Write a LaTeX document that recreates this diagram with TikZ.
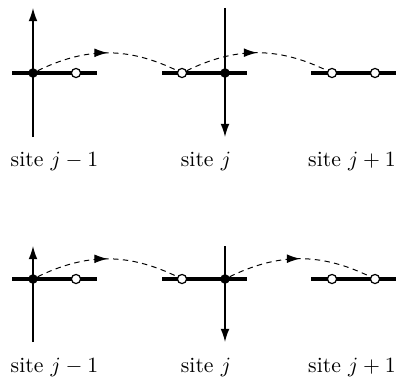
\documentclass[tikz,border=0pt]{standalone}
\usetikzlibrary{arrows.meta, decorations.markings}

\begin{document}
\begin{tikzpicture}[x=0.46pt, y=0.46pt,
      bar/.style={line width=1.5pt},
      axis/.style={line width=0.6pt, -{Latex[length=6pt, width=4pt]}},
      full/.style={circle, fill=black, inner sep=0pt, minimum size=4.4pt},
      empty/.style={circle, draw=black, fill=white, line width=0.55pt,
        inner sep=0pt, minimum size=4.2pt},
      hop/.style={line width=0.45pt, dash pattern=on 2.5pt off 2pt, bend left=26,
        decoration={markings, mark=at position 0.5 with
          {\arrow{Latex[length=6pt, width=4pt]}}},
        postaction={decorate}},
      lbl/.style={inner sep=0pt, font=\normalsize}
    ]
      \useasboundingbox (0,0) rectangle (396,-379);

      % upper row
      \coordinate (ab1) at (12,-73);  \coordinate (ae1) at (97,-73);
      \coordinate (ab2) at (162,-73); \coordinate (ae2) at (247,-73);
      \coordinate (ab3) at (311,-73); \coordinate (ae3) at (396,-73);
      \coordinate (av1) at (33,-137); \coordinate (aw1) at (33,-8);
      \coordinate (av2) at (225,-8);  \coordinate (aw2) at (225,-137);

      \draw[bar] (ab1) -- (ae1);
      \draw[bar] (ab2) -- (ae2);
      \draw[bar] (ab3) -- (ae3);
      \draw[axis] (av1) -- (aw1);
      \draw[axis] (av2) -- (aw2);

      \node[full] (ap1) at (33,-73) {};
      \node[empty] (aq1) at (76,-73) {};
      \node[empty] (aq2) at (182,-73) {};
      \node[full] (ap2) at (225,-73) {};
      \node[empty] (aq3) at (332,-73) {};
      \node[empty] (aq4) at (375,-73) {};

      \draw[hop] (ap1) to (aq2);
      \draw[hop] (aq2) to (aq3);

      \node[lbl] (al1) at (54.5,-161) {site $j-1$};
      \node[lbl] (al2) at (206,-161) {site $j$};
      \node[lbl] (al3) at (352,-161) {site $j+1$};

      % lower row
      \coordinate (bb1) at (12,-279);  \coordinate (be1) at (97,-279);
      \coordinate (bb2) at (162,-279); \coordinate (be2) at (247,-279);
      \coordinate (bb3) at (311,-279); \coordinate (be3) at (396,-279);
      \coordinate (bv1) at (33,-342);  \coordinate (bw1) at (33,-246);
      \coordinate (bv2) at (225,-246); \coordinate (bw2) at (225,-342);

      \draw[bar] (bb1) -- (be1);
      \draw[bar] (bb2) -- (be2);
      \draw[bar] (bb3) -- (be3);
      \draw[axis] (bv1) -- (bw1);
      \draw[axis] (bv2) -- (bw2);

      \node[full] (bp1) at (33,-279) {};
      \node[empty] (bq1) at (76,-279) {};
      \node[empty] (bq2) at (182,-279) {};
      \node[full] (bp2) at (225,-279) {};
      \node[empty] (bq3) at (332,-279) {};
      \node[empty] (bq4) at (375,-279) {};

      \draw[hop] (bp1) to (bq2);
      \draw[hop] (bp2) to (bq4);

      \node[lbl] (bl1) at (54.5,-367) {site $j-1$};
      \node[lbl] (bl2) at (206,-367) {site $j$};
      \node[lbl] (bl3) at (352,-367) {site $j+1$};
    \end{tikzpicture}
\end{document}
